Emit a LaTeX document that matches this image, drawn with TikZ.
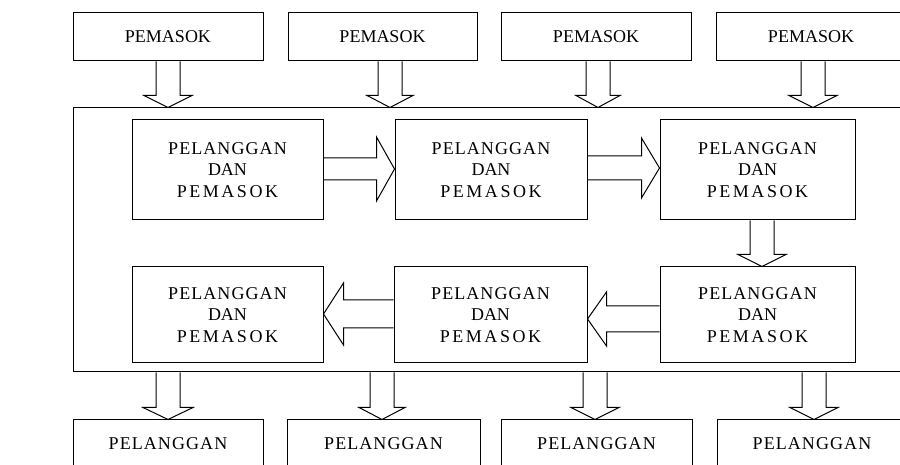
\documentclass[tikz,border=0pt]{standalone}
\usepackage{fontspec}
\setmainfont{Liberation Serif}
\usetikzlibrary{calc}
\newcommand\myspc[2]{{\addfontfeature{LetterSpace=#1}#2}}
\newcommand\mypl{\myspc{6}{PELANGGAN}}
\newcommand\mypm{\myspc{14}{PEMASOK}}
\newcommand\mytrio{\mypl\\DAN\\\mypm}
\tikzset{
  box/.style={draw, line width=1pt, rectangle, inner sep=0pt, align=center,
    font=\fontsize{18}{21.5}\selectfont},
  blk/.style={draw, line width=1pt, line join=miter},
}
% vertical hollow block arrow: from node (south), to node (north), x, head half-width
\newcommand\vblk[4]{%
  \draw[blk] let \p1=(#1.south), \p2=(#2.north) in
  ({#3pt-12pt},{\y1}) -- ({#3pt-12pt},{\y2+12pt}) -- ({#3pt-#4pt},{\y2+12pt}) -- ({#3pt},{\y2})
  -- ({#3pt+#4pt},{\y2+12pt}) -- ({#3pt+12pt},{\y2+12pt}) -- ({#3pt+12pt},{\y1});}
% horizontal hollow block arrow: from anchor, to anchor, y, shaft half, head half, signed head length
\newcommand\hblk[6]{%
  \draw[blk] let \p1=(#1), \p2=(#2) in
  ({\x1},{#3pt+#4pt}) -- ({\x2-1pt*#6},{#3pt+#4pt}) -- ({\x2-1pt*#6},{#3pt+#5pt}) -- ({\x2},{#3pt})
  -- ({\x2-1pt*#6},{#3pt-#5pt}) -- ({\x2-1pt*#6},{#3pt-#4pt}) -- ({\x1},{#3pt-#4pt});}
\begin{document}
\begin{tikzpicture}[x=1pt,y=1pt]
\clip (0,0) rectangle (900,465);
\fill[white] (0,0) rectangle (900,465);
% top suppliers
\node[box, minimum width=190pt, minimum height=48pt] (p1) at (168,428) {PEMASOK};
\node[box, minimum width=189pt, minimum height=48pt] (p2) at (382.5,428) {PEMASOK};
\node[box, minimum width=190pt, minimum height=48pt] (p3) at (596,428) {PEMASOK};
\node[box, minimum width=190pt, minimum height=48pt] (p4) at (811,428) {PEMASOK};
% big frame
\node[box, minimum width=847pt, minimum height=264pt] (big) at (496.5,225) {};
% row 1
\node[box, minimum width=191pt, minimum height=100pt] (a1) at (227.5,295) {\mytrio};
\node[box, minimum width=192pt, minimum height=100pt] (b1) at (491,295) {\mytrio};
\node[box, minimum width=195pt, minimum height=100pt] (c1) at (757.5,295) {\mytrio};
% row 2
\node[box, minimum width=191pt, minimum height=96pt] (a2) at (227.5,150) {\mytrio};
\node[box, minimum width=193pt, minimum height=96pt] (b2) at (490.5,150) {\mytrio};
\node[box, minimum width=195pt, minimum height=96pt] (c2) at (757.5,150) {\mytrio};
% bottom customers
\node[box, minimum width=190pt, minimum height=47pt] (q1) at (168,21.5) {\mypl};
\node[box, minimum width=193pt, minimum height=47pt] (q2) at (383.5,21.5) {\mypl};
\node[box, minimum width=191pt, minimum height=47pt] (q3) at (596.5,21.5) {\mypl};
\node[box, minimum width=190pt, minimum height=47pt] (q4) at (812,21.5) {\mypl};
% arrows
\vblk{p1}{big}{168}{24}
\vblk{p2}{big}{390}{23}
\vblk{p3}{big}{598}{22}
\vblk{p4}{big}{813}{24}
\vblk{c1}{c2}{762}{24}
\vblk{big}{q1}{168}{25}
\vblk{big}{q2}{382}{23}
\vblk{big}{q3}{595}{24}
\vblk{big}{q4}{814}{24}
\hblk{a1.east}{b1.west}{296}{11}{32}{18}
\hblk{b1.east}{c1.west}{297}{12}{30}{18}
\hblk{b2.west}{a2.east}{151}{14}{31}{-20}
\hblk{c2.west}{b2.east}{146}{13}{27}{-19}
\end{tikzpicture}
\end{document}
